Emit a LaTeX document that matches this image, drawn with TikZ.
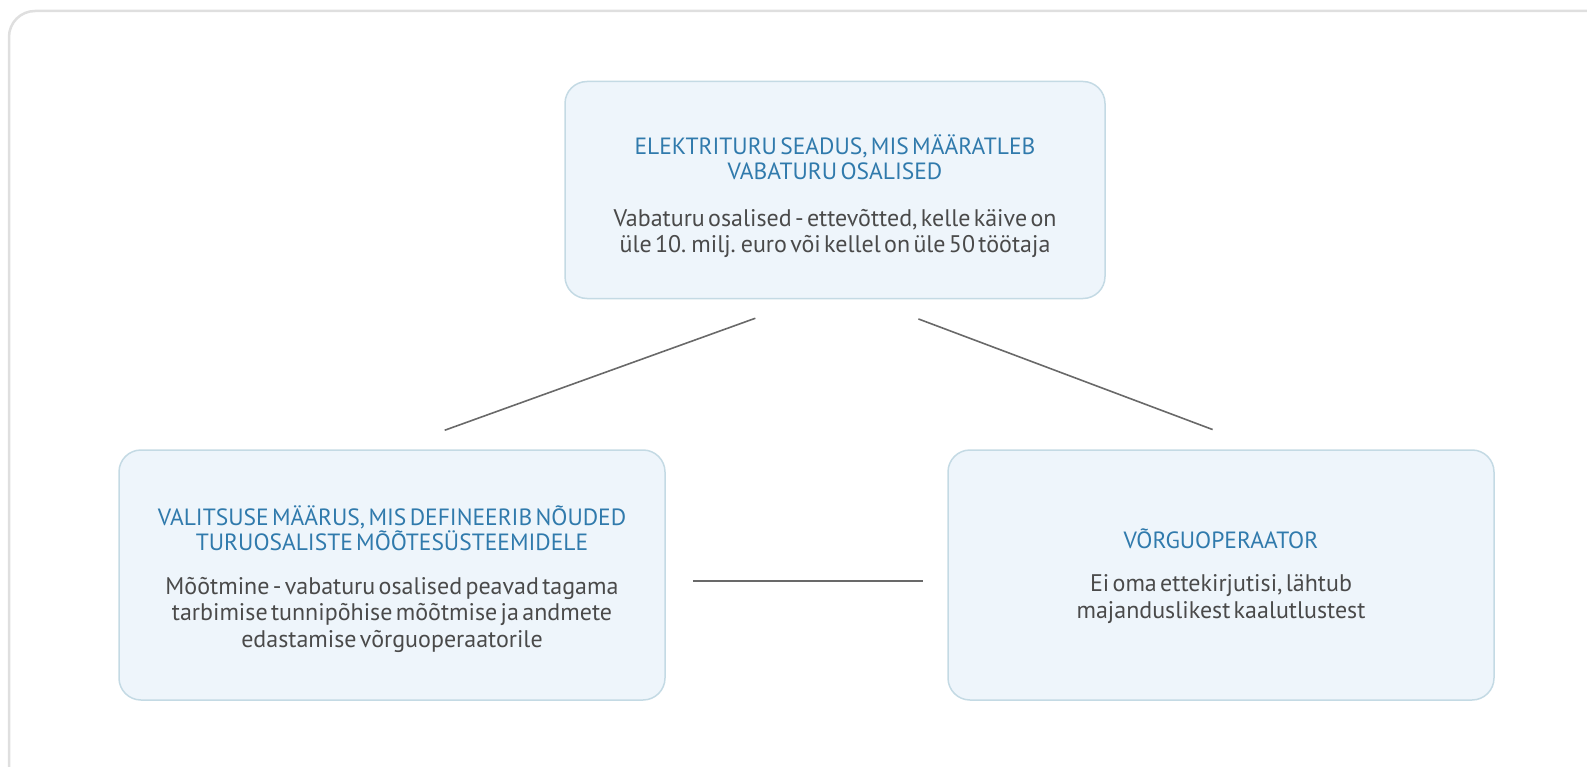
\documentclass[tikz,border=0pt]{standalone}
\usepackage{fontspec}
\setmainfont{PT Sans}
\usepackage{tikz}

\definecolor{ttlblue}{RGB}{48,122,172}
\definecolor{bodygray}{RGB}{74,74,74}
\definecolor{boxfill}{RGB}{238,245,251}
\definecolor{boxline}{RGB}{196,218,228}
\definecolor{linegray}{RGB}{105,105,105}
\newcommand{\ttl}{\color{ttlblue}\fontsize{23.5}{25.5}\selectfont}
\newcommand{\bdy}{\color{bodygray}\fontsize{24}{26.5}\selectfont}

\begin{document}
\begin{tikzpicture}[x=1pt,y=-1pt]
    \tikzstyle{box}=[draw=boxline,line width=1.5pt,fill=boxfill,rounded corners=22pt,inner sep=0pt]
    \tikzstyle{txt}=[align=center,text width=520pt,inner sep=0pt]
    \tikzstyle{link}=[draw=linegray,line width=1.6pt,shorten >=56pt,shorten <=56pt]
    \useasboundingbox (0,0) rectangle (1587,767);
    \clip (0,0) rectangle (1587,767);
    % frame
    \draw[gray!25,line width=2.5pt,rounded corners=26pt] (9,11) rectangle (1640,820);
    % boxes
    \node[box,minimum width=540pt,minimum height=217pt] (law) at (835,190) {};
    \node[box,minimum width=546pt,minimum height=250pt] (rule) at (392,575) {};
    \node[box,minimum width=546pt,minimum height=250pt] (grid) at (1221,575) {};
    \node[txt] (lawtxt) at ([yshift=-6pt]law.center)
      {{\ttl ELEKTRITURU SEADUS, MIS MÄÄRATLEB\\VABATURU OSALISED\par}\vspace{20pt}
       {\bdy Vabaturu osalised - ettevõtted, kelle käive on\\üle 10. milj. euro või kellel on üle 50 töötaja\par}};
    \node[txt] (ruletxt) at ([yshift=-4pt]rule.center)
      {{\ttl VALITSUSE MÄÄRUS, MIS DEFINEERIB NÕUDED\\TURUOSALISTE MÕÕTESÜSTEEMIDELE\par}\vspace{17pt}
       {\bdy Mõõtmine - vabaturu osalised peavad tagama\\tarbimise tunnipõhise mõõtmise ja andmete\\edastamise võrguoperaatorile\par}};
    \node[txt] (gridtxt) at ([yshift=-1pt]grid.center)
      {{\ttl VÕRGUOPERAATOR\par}\vspace{17pt}
       {\bdy Ei oma ettekirjutisi, lähtub\\majanduslikest kaalutlustest\par}};
    % links
    \draw[link] ([xshift=-27pt]law.south) -- (rule.north);
    \draw[link] ([xshift=31pt]law.south) -- ([xshift=44pt]grid.north);
    \draw[link,shorten <=27pt,shorten >=24pt] ([yshift=-6pt]rule.east) -- ([yshift=-6pt]grid.west);
\end{tikzpicture}
\end{document}
